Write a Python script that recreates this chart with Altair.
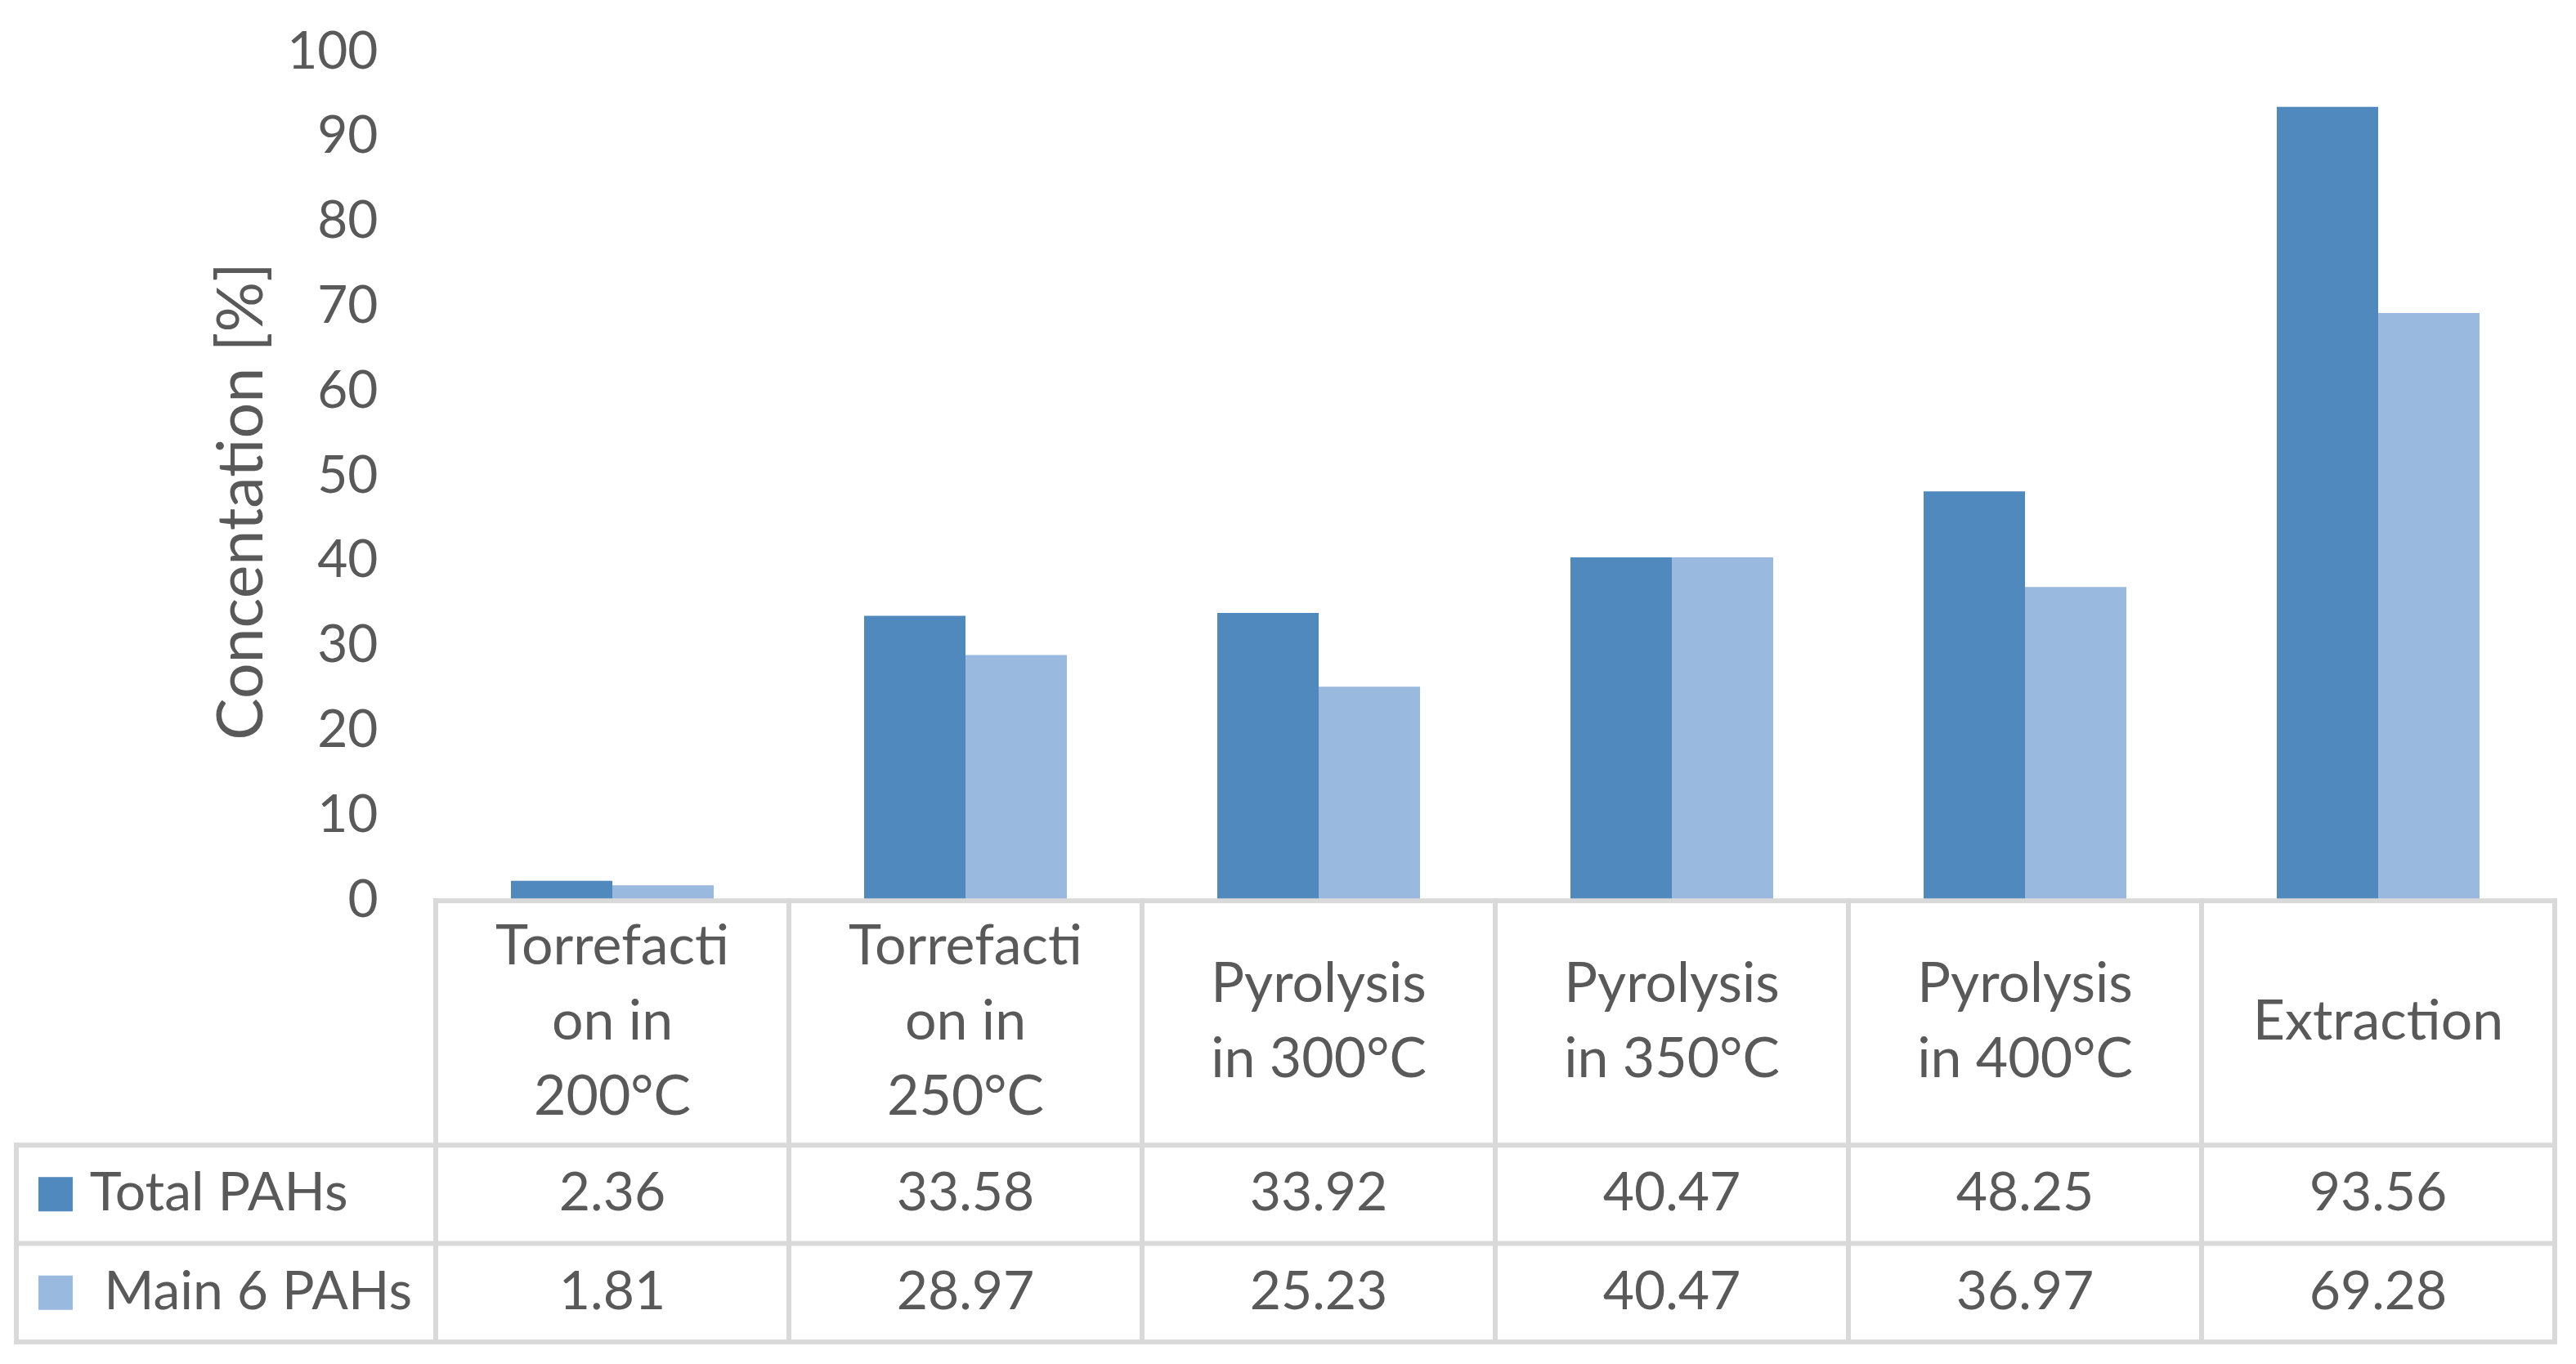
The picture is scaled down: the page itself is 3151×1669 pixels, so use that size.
import altair as alt
import pandas as pd

# ---------------- data ----------------
categories = ["Torrefaction in 200°C", "Torrefaction in 250°C", "Pyrolysis in 300°C",
              "Pyrolysis in 350°C", "Pyrolysis in 400°C", "Extraction"]
category_labels = ["Torrefacti\non in\n200°C", "Torrefacti\non in\n250°C", "Pyrolysis\nin 300°C",
                   "Pyrolysis\nin 350°C", "Pyrolysis\nin 400°C", "Extraction"]
series = ["Total PAHs", "Main 6 PAHs"]
total_pahs = [2.36, 33.58, 33.92, 40.47, 48.25, 93.56]
main6_pahs = [1.81, 28.97, 25.23, 40.47, 36.97, 69.28]
y_ticks = [0, 10, 20, 30, 40, 50, 60, 70, 80, 90, 100]
colors = ["#4F89BD", "#99B9DF"]

TEXT = "#595959"
LINE = "#D9D9D9"
FONT = "Lato"
FS = 64
LINE_H = 92                 # px between wrapped header lines
PX_PER_UNIT = 1578 / 152.0  # plot height / y-domain span

# table layout (in value units below zero)
header_depth = 28.8
row_depth = 11.6
legend_col = 1.1875   # legend column width in category widths
y_min = -(header_depth + 2 * row_depth)

bar_rows = []
for s, vals in zip(series, [total_pahs, main6_pahs]):
    for c, v in zip(categories, vals):
        bar_rows.append({"category": c, "series": s, "value": v})
bar_df = pd.DataFrame(bar_rows)

row_center = {series[0]: -(header_depth + row_depth / 2),
              series[1]: -(header_depth + row_depth * 1.5)}
val_df = bar_df.assign(rowy=bar_df["series"].map(row_center))

# centre each wrapped header block vertically in the header row
n_lines = [lab.count("\n") + 1 for lab in category_labels]
head_df = pd.DataFrame({
    "category": categories, "label": category_labels,
    "rowy": [-header_depth / 2 + (k - 1) / 2 * LINE_H / PX_PER_UNIT for k in n_lines],
})

leg_df = pd.DataFrame({"series": series, "label": series,
                       "rowy": [row_center[s] for s in series],
                       "sx": [-legend_col + 0.111] * 2,
                       "tx": [-legend_col + 0.208, -legend_col + 0.248]})

# table lines
n = len(categories)
hlines = pd.DataFrame({
    "x": [0, -legend_col, -legend_col, -legend_col],
    "x2": [n, n, n, n],
    "y": [0, -header_depth, -(header_depth + row_depth), y_min],
})
vlines = pd.DataFrame({
    "x": [-legend_col] + list(range(n + 1)),
    "y": [-header_depth] + [0] * (n + 1),
    "y2": [y_min] * (n + 2),
})

yscale = alt.Scale(domain=[y_min, 100], nice=False, zero=False)
xband = alt.X("category:N", sort=categories,
              scale=alt.Scale(domain=categories, paddingInner=0, paddingOuter=0), axis=None)
xq_scale = alt.Scale(domain=[0, n], nice=False, zero=False)
color = alt.Color("series:N", scale=alt.Scale(domain=series, range=colors), legend=None)

bars = alt.Chart(bar_df).mark_bar().encode(
    x=xband,
    xOffset=alt.XOffset("series:N", sort=series,
                        scale=alt.Scale(domain=series, paddingInner=0, paddingOuter=0.742)),
    y=alt.Y("value:Q", scale=yscale,
            axis=alt.Axis(values=y_ticks, labelFontSize=FS, labelFont=FONT, labelColor=TEXT,
                          labelPadding=71, ticks=False, domain=False, grid=False,
                          title="Concentation [%]", titleFont=FONT, titleFontSize=77,
                          titleFontWeight="normal", titleColor=TEXT, titleAngle=270,
                          titleX=-236, titleY=549, titleBaseline="middle", titleAlign="center")),
    y2=alt.datum(0),
    color=color,
)

hrule = alt.Chart(hlines).mark_rule(color=LINE, strokeWidth=6, strokeCap="square").encode(
    x=alt.X("x:Q", scale=xq_scale, axis=None), x2="x2:Q",
    y=alt.Y("y:Q", scale=yscale),
)
vrule = alt.Chart(vlines).mark_rule(color=LINE, strokeWidth=6, strokeCap="square").encode(
    x=alt.X("x:Q", scale=xq_scale, axis=None),
    y=alt.Y("y:Q", scale=yscale), y2="y2:Q",
)

head_text = alt.Chart(head_df).mark_text(
    font=FONT, fontSize=68, color=TEXT, lineBreak="\n", lineHeight=LINE_H,
    align="center", baseline="middle").encode(
    x=xband, y=alt.Y("rowy:Q", scale=yscale), text="label:N")

val_text = alt.Chart(val_df).mark_text(
    font=FONT, fontSize=66, color=TEXT, align="center", baseline="middle").encode(
    x=xband, y=alt.Y("rowy:Q", scale=yscale), text=alt.Text("value:Q", format=".2f"))

leg_sq = alt.Chart(leg_df).mark_square(size=1764, opacity=1, filled=True).encode(
    x=alt.X("sx:Q", scale=xq_scale, axis=None), y=alt.Y("rowy:Q", scale=yscale), color=color)

leg_text = alt.Chart(leg_df).mark_text(
    font=FONT, fontSize=66, color=TEXT, align="left", baseline="middle").encode(
    x=alt.X("tx:Q", scale=xq_scale, axis=None), y=alt.Y("rowy:Q", scale=yscale), text="label:N")

band_layer = alt.layer(bars, head_text, val_text)
quant_layer = alt.layer(hrule, vrule, leg_sq, leg_text)

chart = alt.layer(band_layer, quant_layer).resolve_scale(x="independent").properties(
    width=2592, height=1578,
    background="white",
    autosize=alt.AutoSizeParams(type="none"),
    padding={"left": 525, "top": 56, "right": 17, "bottom": 20},
).configure_view(strokeWidth=0, stroke="transparent")

chart.save("out.html", embed_options={"renderer": "svg", "actions": False})
